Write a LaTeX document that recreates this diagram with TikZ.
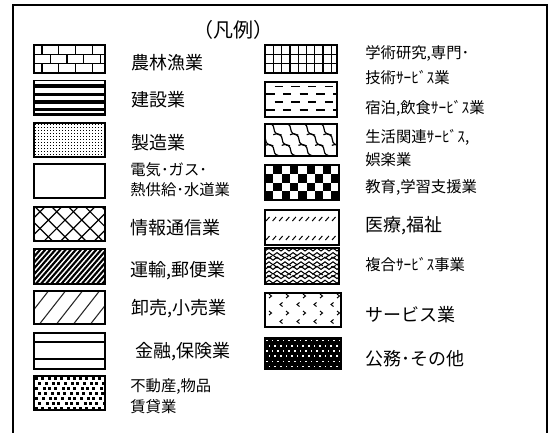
\documentclass[tikz,border=0pt]{standalone}
\usepackage{fontspec}
\setmainfont{Noto Sans CJK JP}
\tikzset{every picture/.style={line width=0.5pt}}
\tikzset{
  swatch/.style={draw=black, line width=0.9},
  hatch/.style={line width=0.9},
  lbl/.style={anchor=west, inner sep=0.75pt, font=\fontsize{13.5}{16}\selectfont},
  lblsm/.style={anchor=west, inner sep=0.75pt, font=\fontsize{11.5}{14}\selectfont},
}

\begin{document}
\begin{tikzpicture}[x=0.75pt,y=0.75pt,yscale=-1,xscale=1]
    \useasboundingbox (0,0) rectangle (552,432);
    %Shape: Frame
    \draw [line width=1.5] (13,5) rectangle (547,450);

    % Text Node
    \node [inner sep=0.75pt, font=\fontsize{15}{18}\selectfont] (title) at (233,30) {（凡例）};

    %Shape: brick
    \begin{scope}
      \clip (34,45) rectangle (105,73);
      \foreach \y in {54.3,63.7} \draw [hatch] (34,\y) -- (105,\y);
      \foreach \x in {42,58.7,75.4,92.1} {
        \draw [hatch] (\x,45) -- (\x,54.3);
        \draw [hatch] (\x,63.7) -- (\x,73);
      }
      \foreach \x in {50.3,67,83.7,100.4} \draw [hatch] (\x,54.3) -- (\x,63.7);
    \end{scope}
    \draw [swatch] (34,45) rectangle (105,73);

    %Shape: bands
    \foreach \y in {86,94.3,101.7,109.3} \fill (34,\y-1.8) rectangle (105,\y+1.8);
    \draw [line width=0.5] (34,113.5) -- (105,113.5);
    \draw [swatch] (34,80.5) rectangle (105,115);

    %Shape: small dots
    \begin{scope}
      \clip (34,123) rectangle (105,157);
      \foreach \i in {0,...,23} \foreach \j in {0,...,11}
        \fill (35+3*\i,124+3*\j) rectangle ++(1.1,1.1);
    \end{scope}
    \draw [swatch] (34,123) rectangle (105,157);

    %Shape: blank
    \draw [swatch] (34,164) rectangle (105,198);

    %Shape: outlined diamond
    \begin{scope}
      \clip (34,207) rectangle (105,241);
      \foreach \k in {-3,...,7} {
        \draw [hatch] (16.7*\k,171.7) -- ++(80,80);
        \draw [hatch] (16.7*\k,251.7) -- ++(80,-80);
      }
    \end{scope}
    \draw [swatch] (34,207) rectangle (105,241);

    %Shape: dark upward diagonal
    \begin{scope}
      \clip (34,249) rectangle (105,284);
      \foreach \k in {-8,...,15} \draw [line width=1.6] (34+5.1*\k,286) -- ++(34,-39);
    \end{scope}
    \draw [swatch] (34,249) rectangle (105,284);

    %Shape: light upward diagonal
    \begin{scope}
      \clip (34,291) rectangle (105,324);
      \foreach \k in {-2,...,4} \draw [line width=0.8, black!85] (38+17*\k,326) -- ++(29,-37);
    \end{scope}
    \draw [swatch] (34,291) rectangle (105,324);

    %Shape: two rules
    \draw [hatch] (34,342) -- (105,342) (34,359) -- (105,359);
    \draw [swatch] (34,333) rectangle (105,369);

    %Shape: large confetti
    \begin{scope}
      \clip (34,376) rectangle (105,410);
      \foreach \i in {0,...,11} \foreach \j in {0,...,6}
        \fill ({35+6.3*\i+3.1*mod(\j,2)+0.8*mod(\i*\j,3)},{377+5*\j}) rectangle ++(3,3);
    \end{scope}
    \draw [swatch] (34,376) rectangle (105,410);

    %Shape: small grid
    \foreach \k in {1,...,8} \draw [line width=1] (265+8.3*\k,45) -- (265+8.3*\k,73);
    \foreach \y in {54.3,63.7} \draw [line width=1] (265,\y) -- (337,\y);
    \draw [swatch] (265,45) rectangle (337,73);

    %Shape: dashed horizontal
    \begin{scope}
      \clip (265,82) rectangle (337,117);
      \foreach \y/\s in {86.5/274.7,94/266.3,102/274.7,110/266.3}
        \foreach \k in {-1,...,5} \draw [line width=1.2] (\s+16.7*\k,\y) -- ++(8.3,0);
    \end{scope}
    \draw [swatch] (265,82) rectangle (337,117);

    %Shape: shingle
    \begin{scope}
      \clip (265,124) rectangle (337,156);
      \foreach \j in {-1,...,3} \foreach \i in {-1,...,5}
        \draw [hatch] ({265+16.7*\i+8.3*mod(\j+2,2)},{124+10.7*\j}) .. controls +(5,-3) and +(0,-4) .. ++(9,5) .. controls +(0,4) and +(-4,0) .. ++(7.7,6);
    \end{scope}
    \draw [swatch] (265,124) rectangle (337,156);

    %Shape: large checker board
    \begin{scope}
      \clip (265,165) rectangle (339,200);
      \foreach \j in {0,...,3} \foreach \m in {0,...,4}
        \fill ({265+16.6*\m+8.3-8.3*mod(\j,2)},{165+8.75*\j}) rectangle ++(8.3,8.75);
    \end{scope}
    \draw [swatch] (265,165) rectangle (339,200);

    %Shape: dashed upward diagonal
    \begin{scope}
      \clip (265,210) rectangle (339,245);
      \foreach \y in {219,238} \foreach \k in {0,...,11}
        \draw [line width=0.75] (266+6.6*\k,\y+2) -- ++(3.5,-4);
    \end{scope}
    \draw [swatch] (265,210) rectangle (339,245);

    %Shape: weave
    \begin{scope}
      \clip (265,248) rectangle (339,284);
      \foreach \j in {-1,...,8}
        \draw [line width=0.8] (261,248+4.6*\j) \foreach \i in {0,...,10} { -- ++(4,3) -- ++(4,-3) };
      \foreach \j in {0,...,4}
        \draw [line width=0.8, dash pattern=on 4pt off 2pt] (261,249+9.2*\j) \foreach \i in {0,...,10} { -- ++(4,-3) -- ++(4,3) };
    \end{scope}
    \draw [swatch] (265,248) rectangle (339,284);

    %Shape: divot
    \begin{scope}
      \clip (265,293) rectangle (341,327);
      \foreach \y in {296,313} \foreach \k in {0,...,4}
        \draw [line width=0.75] (269+17*\k,\y-2) -- ++(2.5,2) -- ++(-2.5,2);
      \foreach \y in {304.5,321.5} \foreach \k in {0,...,4}
        \draw [line width=0.75] (282.5+17*\k,\y-2) -- ++(-2.5,2) -- ++(2.5,2);
    \end{scope}
    \draw [swatch] (265,293) rectangle (341,327);

    %Shape: 90 percent
    \fill (265,338) rectangle (341,369);
    \foreach \j in {0,...,5} \foreach \i in {0,...,13}
      \fill [white] ({266+5.6*\i+2.8*mod(\j,2)},{339.8+5.2*\j}) rectangle ++(1.5,1.5);
    \draw [swatch] (265,338) rectangle (341,369);

    % Text Node
    \node [lbl] (lblNorin) at (130,63) {農林漁業};
    \node [lbl] (lblKensetsu) at (130,100) {建設業};
    \node [lbl] (lblSeizo) at (130,143) {製造業};
    \node [lblsm] (lblDenkiA) at (129,170) {電気･ガス･};
    \node [lblsm] (lblDenkiB) at (129,190) {熱供給･水道業};
    \node [lbl] (lblJoho) at (129,228) {情報通信業};
    \node [lbl] (lblUnyu) at (129,271) {運輸,郵便業};
    \node [lbl] (lblOroshi) at (130,309) {卸売,小売業};
    \node [lbl] (lblKinyu) at (134,352) {金融,保険業};
    \node [lblsm] (lblFudosanA) at (129,387) {不動産,物品};
    \node [lblsm] (lblFudosanB) at (129,407) {賃貸業};

    \node [lblsm] (lblGakuA) at (364,53) {学術研究,専門･};
    \node [lblsm] (lblGakuB) at (364,78) {技術ｻｰﾋﾞｽ業};
    \node [lblsm] (lblShuku) at (364,108) {宿泊,飲食ｻｰﾋﾞｽ業};
    \node [lblsm] (lblSeikatsuA) at (364,137) {生活関連ｻｰﾋﾞｽ,};
    \node [lblsm] (lblSeikatsuB) at (364,160) {娯楽業};
    \node [lblsm] (lblKyoiku) at (364,187) {教育,学習支援業};
    \node [lbl] (lblIryo) at (364,226) {医療,福祉};
    \node [lblsm] (lblFukugo) at (364,265) {複合ｻｰﾋﾞｽ事業};
    \node [lbl] (lblService) at (364,315) {サービス業};
    \node [lbl] (lblKomu) at (364,359) {公務･その他};
\end{tikzpicture}
\end{document}
